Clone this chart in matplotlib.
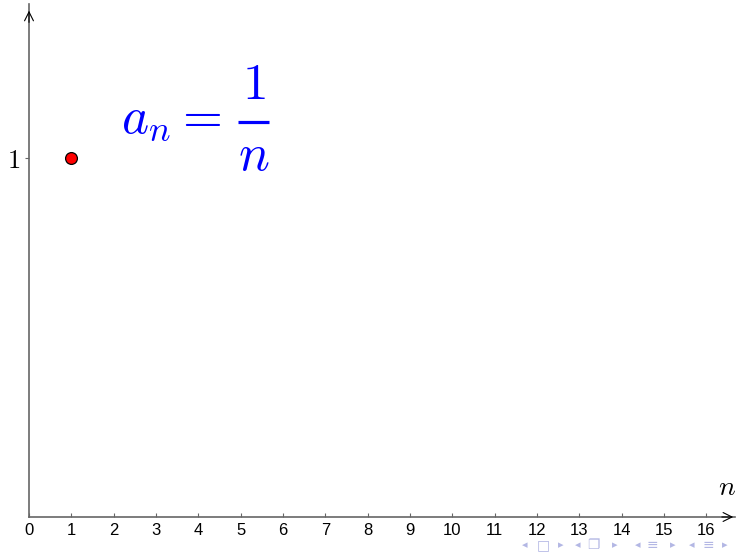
import matplotlib.pyplot as plt
from matplotlib.lines import Line2D

# data
n_vals = [1]
a_vals = [1.0]
x_ticks = list(range(0, 17))
y_ticks = [1]
y_tick_labels = ['$1$']
nav_symbols = ['\u25c2', '\u25a1', '\u25b8', '\u25c2', '\u2750', '\u25b8',
               '\u25c2', '\u2261', '\u25b8', '\u25c2', '\u2261', '\u25b8']

plt.rcParams['mathtext.fontset'] = 'cm'

W, H = 736, 552
fig = plt.figure(figsize=(W / 100, H / 100), dpi=100)
ax = fig.add_axes([0, 0, 1, 1])
ax.set_xlim(-0.685, 16.70)
ax.set_ylim(-0.0975, 1.440)


def px(x, y):
    # pixel (from top-left) -> figure fraction
    return x / W, (H - y) / H


axis_col = '#666666'
for s in ['top', 'right']:
    ax.spines[s].set_visible(False)
ax.spines['left'].set_position(('data', 0))
ax.spines['bottom'].set_position(('data', 0))
ax.spines['left'].set_bounds(0, 1.43)
ax.spines['bottom'].set_bounds(0, 16.68)
ax.spines['left'].set_color(axis_col)
ax.spines['bottom'].set_color(axis_col)
ax.spines['left'].set_linewidth(1.2)
ax.spines['bottom'].set_linewidth(1.2)

# arrow heads
ax.annotate('', xy=(16.70, 0), xytext=(16.3, 0),
            arrowprops=dict(arrowstyle='->', color='black', lw=0.8, mutation_scale=16))
ax.annotate('', xy=(0, 1.418), xytext=(0, 1.37),
            arrowprops=dict(arrowstyle='->', color='black', lw=0.8, mutation_scale=16))

ax.set_xticks(x_ticks)
ax.set_xticklabels([str(t) for t in x_ticks], family='Liberation Sans', fontsize=12)
ax.tick_params(axis='x', direction='in', length=3, color=axis_col, pad=4)
ax.set_yticks(y_ticks)
ax.set_yticklabels(y_tick_labels, fontsize=19)
ax.tick_params(axis='y', direction='out', length=3, color=axis_col, pad=3)

ax.plot(n_vals, a_vals, 'o', color='red', markeredgecolor='black',
        markersize=8.5, markeredgewidth=0.9, clip_on=False)

fig.text(*px(727.5, 495), '$n$', fontsize=20, ha='center', va='baseline')

# formula a_n = 1/n
blue = '#0000ff'
fig.text(*px(121, 133), '$a_n =$', fontsize=37, color=blue, ha='left', va='baseline')
fig.text(*px(253.5, 99), '$1$', fontsize=37, color=blue, ha='center', va='baseline')
fig.text(*px(253.5, 170), '$n$', fontsize=37, color=blue, ha='center', va='baseline')
x0, y0 = px(238, 121.5)
x1, _ = px(269, 121.5)
fig.add_artist(Line2D([x0, x1], [y0, y0], color=blue, lw=2.3,
                      solid_capstyle='butt', transform=fig.transFigure))

# beamer navigation symbols
nav_x = [525, 543, 561, 578, 593, 615, 638, 652, 673, 692, 708, 725]
for cx, sym in zip(nav_x, nav_symbols):
    big = sym not in ('\u25c2', '\u25b8')
    fig.text(*px(cx, 545), sym, fontsize=10 if big else 8,
             color='#b3b7e4', ha='center', va='center', family=['DejaVu Sans'])

fig.savefig('out.png', dpi=100)
